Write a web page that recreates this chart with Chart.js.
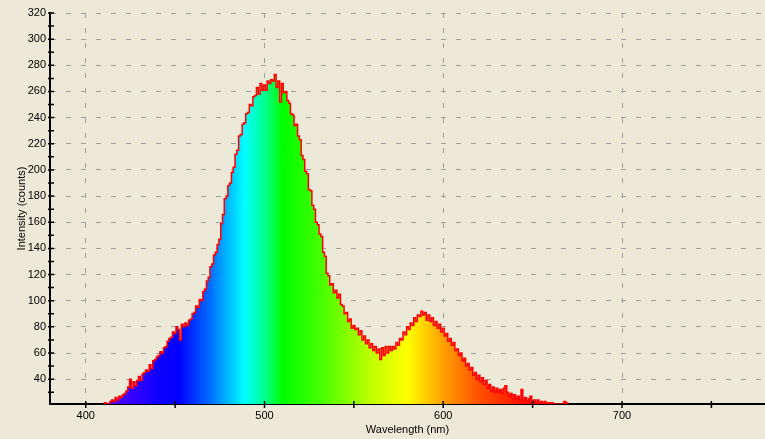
<!DOCTYPE html>
<html>
<head>
<meta charset="utf-8">
<script src="https://cdn.jsdelivr.net/npm/chart.js@4.4.1/dist/chart.umd.min.js"></script>
<style>
  html, body { margin: 0; padding: 0; background: #ECE9D8; }
  #wrap { width: 765px; height: 439px; }
</style>
</head>
<body>
<div id="wrap"><canvas id="spectrumChart" width="765" height="439"></canvas></div>
<script>
// ================= DATA =================
// spectrometer trace, one sample per nm starting at wlStart
const wlStart = 410;
const wlStep = 1;
const intensity = [
  21, 22, 21, 21, 23, 24, 23, 26, 24, 27,            // 410
  26, 28, 29, 31, 34, 40, 33, 38, 35, 39,            // 420
  42, 39, 44, 45, 47, 46, 51, 48, 54, 55,            // 430
  57, 58, 61, 60, 64, 65, 69, 71, 72, 76,            // 440
  75, 80, 78, 70, 82, 80, 83, 81, 85, 86,            // 450
  90, 91, 96, 95, 101, 100, 107, 109, 115, 118,      // 460
  126, 128, 135, 137, 143, 147, 159, 166, 178, 180,  // 470
  188, 190, 198, 202, 212, 215, 226, 227, 235, 236,  // 480
  243, 244, 250, 249, 256, 257, 263, 258, 266, 261,  // 490
  265, 261, 268, 266, 269, 268, 273, 263, 268, 252,  // 500
  266, 259, 260, 253, 251, 243, 242, 234, 235, 226,  // 510
  223, 211, 208, 199, 197, 185, 184, 173, 170, 160,  // 520
  158, 151, 149, 137, 134, 121, 119, 112, 113, 106,  // 530
  108, 102, 105, 97, 96, 90, 91, 84, 86, 79,         // 540
  81, 78, 79, 74, 77, 70, 73, 67, 70, 64,            // 550
  67, 62, 65, 60, 63, 55, 64, 58, 65, 60,            // 560
  65, 62, 65, 63, 68, 66, 71, 70, 76, 74,            // 570
  80, 78, 83, 81, 87, 84, 89, 88, 92, 89,            // 580
  91, 85, 89, 84, 87, 81, 84, 79, 82, 76,            // 590
  79, 73, 75, 69, 71, 66, 68, 62, 63, 58,            // 600
  60, 54, 56, 50, 52, 47, 49, 43, 45, 40,            // 610
  43, 38, 41, 36, 39, 33, 36, 31, 34, 30,            // 620
  33, 30, 32, 29, 33, 35, 30, 27, 29, 25,            // 630
  28, 25, 27, 24, 32, 24, 26, 23, 25, 27,            // 640
  23, 24, 22, 24, 22, 23, 21, 23, 21, 22,            // 650
  21, 22, 21, 21, 21, 21, 21, 21, 23, 21,            // 660
  22                                                 // 670
];
const wavelengths = intensity.map((_, i) => wlStart + i * wlStep);

const xTickValues = [400, 450, 500, 550, 600, 650, 700, 750];
const yTickValues = [30, 40, 50, 60, 70, 80, 90, 100, 110, 120, 130, 140, 150, 160,
  170, 180, 190, 200, 210, 220, 230, 240, 250, 260, 270, 280, 290, 300, 310, 320];

// ================= STYLE =================
const spectrumStops = [
  [380, '#8000ff'], [415, '#5000ff'], [440, '#1000ff'], [452, '#0000ff'],
  [470, '#0070ff'], [489, '#00ffff'], [500, '#00ff90'], [510, '#00ff00'],
  [530, '#40ff00'], [560, '#c0ff00'], [580, '#ffff00'], [600, '#ffa000'],
  [620, '#ff5000'], [645, '#ff1000'], [670, '#ff0000']
];
const gridGrey = '#a0a0a0';
const font11 = { family: '"Liberation Sans", Arial, sans-serif', size: 11 };

function spectrumFill(context) {
  const chart = context.chart;
  const area = chart.chartArea;
  if (!area) return null;
  const xs = chart.scales.x;
  const g = chart.ctx.createLinearGradient(area.left, 0, area.right, 0);
  spectrumStops.forEach(([nm, col]) => {
    const pos = (xs.getPixelForValue(nm) - area.left) / (area.right - area.left);
    g.addColorStop(Math.min(1, Math.max(0, pos)), col);
  });
  return g;
}

// tick marks that cross the axis line on both sides
const crossTicks = {
  id: 'crossTicks',
  afterDraw(chart) {
    const { ctx, chartArea, scales: { x, y } } = chart;
    ctx.save();
    ctx.strokeStyle = '#000';
    ctx.lineWidth = 1.5;
    ctx.beginPath();
    yTickValues.forEach(v => {
      const py = y.getPixelForValue(v);
      ctx.moveTo(chartArea.left - 2, py);
      ctx.lineTo(chartArea.left + 4, py);
    });
    xTickValues.forEach(v => {
      const px = x.getPixelForValue(v);
      ctx.moveTo(px, chartArea.bottom - 3);
      ctx.lineTo(px, chartArea.bottom + 4);
    });
    ctx.stroke();
    ctx.restore();
  }
};

new Chart(document.getElementById('spectrumChart'), {
  type: 'line',
  data: {
    datasets: [{
      label: 'Intensity',
      data: wavelengths.map((w, i) => ({ x: w, y: intensity[i] })),
      borderColor: '#ff0000',
      backgroundColor: spectrumFill,
      borderWidth: 1.5,
      stepped: 'middle',
      pointRadius: 0,
      fill: 'start'
    }]
  },
  options: {
    responsive: false,
    animation: false,
    events: [],
    layout: { padding: { top: 13, right: 0, bottom: 0, left: 0 } },
    plugins: { legend: { display: false }, tooltip: { enabled: false } },
    scales: {
      x: {
        type: 'linear',
        min: 380,
        max: 780,
        z: 1,
        afterBuildTicks: s => { s.ticks = xTickValues.map(v => ({ value: v })); },
        afterFit: s => { s.height = 35; },
        ticks: {
          autoSkip: false,
          maxRotation: 0,
          padding: 5,
          color: '#000',
          font: font11,
          callback: v => (v % 100 === 0 ? String(v) : '')
        },
        grid: {
          drawTicks: false,
          color: c => (c.tick && c.tick.value % 100 === 0 ? gridGrey : 'rgba(0,0,0,0)'),
          lineWidth: 1
        },
        border: { display: true, color: '#000', width: 2, dash: [5, 10] },
        title: {
          display: true,
          text: 'Wavelength (nm)',
          color: '#000',
          font: font11,
          padding: { top: 0, bottom: 2 }
        }
      },
      y: {
        min: 21,
        max: 320,
        z: 1,
        afterBuildTicks: s => { s.ticks = yTickValues.map(v => ({ value: v })); },
        afterFit: s => { s.width = 50; },
        ticks: {
          autoSkip: false,
          padding: 4,
          color: '#000',
          font: font11,
          callback: v => (v % 20 === 0 ? String(v) : '')
        },
        grid: {
          drawTicks: false,
          color: c => (c.tick && c.tick.value % 20 === 0 ? gridGrey : 'rgba(0,0,0,0)'),
          lineWidth: 1
        },
        border: { display: true, color: '#000', width: 2, dash: [5, 10] },
        title: {
          display: true,
          text: 'Intensity (counts)',
          color: '#000',
          font: font11,
          padding: { top: 15, bottom: 0 }
        }
      }
    }
  },
  plugins: [crossTicks]
});
</script>
</body>
</html>
